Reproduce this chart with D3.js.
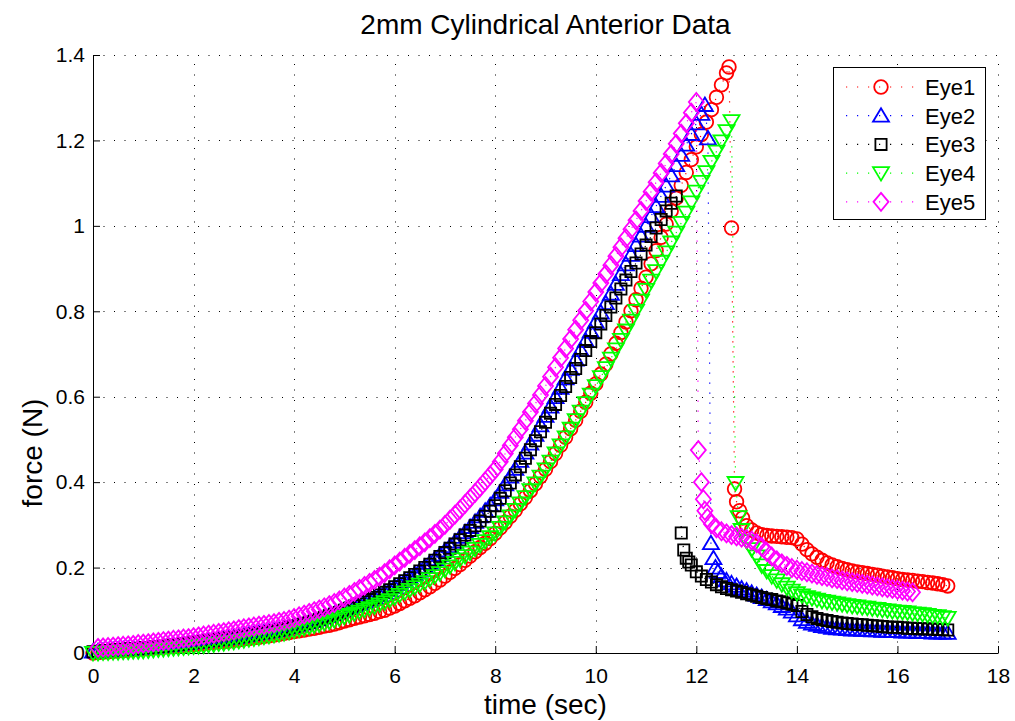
<!DOCTYPE html>
<html><head><meta charset="utf-8">
<script src="https://cdn.jsdelivr.net/npm/d3@7"></script>
<style>body{margin:0;background:#fff}svg{display:block}</style>
</head><body>
<svg id="chart" width="1015" height="721"></svg>
<script>
const chartTitle = "2mm Cylindrical Anterior Data";
const xLabel = "time (sec)";
const yLabel = "force (N)";
const xTickValues = [0,2,4,6,8,10,12,14,16,18];
const xTickLabels = ["0","2","4","6","8","10","12","14","16","18"];
const yTickValues = [0,0.2,0.4,0.6,0.8,1,1.2,1.4];
const yTickLabels = ["0","0.2","0.4","0.6","0.8","1","1.2","1.4"];
const seriesNames = ["Eye1","Eye2","Eye3","Eye4","Eye5"];

// [time (s), force (N)]
const eye1 = [[0,0],[0.1,.001],[0.2,.002],[0.3,.003],[0.4,.004],[0.5,.005],[0.6,.006],[0.7,.007],[0.8,.008],[0.9,.009],[1,.010],
[1.1,.011],[1.2,.012],[1.3,.013],[1.4,.014],[1.5,.015],[1.6,.016],[1.7,.017],[1.8,.018],[1.9,.019],[2,.020],
[2.1,.021],[2.2,.022],[2.3,.024],[2.4,.025],[2.5,.026],[2.6,.027],[2.7,.028],[2.8,.030],[2.9,.031],[3,.033],
[3.1,.034],[3.2,.036],[3.3,.037],[3.4,.039],[3.5,.040],[3.6,.042],[3.7,.044],[3.8,.046],[3.9,.048],[4,.050],
[4.1,.052],[4.2,.054],[4.3,.056],[4.4,.058],[4.5,.060],[4.6,.063],[4.7,.065],[4.8,.068],[4.9,.071],[5,.075],
[5.1,.078],[5.2,.081],[5.3,.084],[5.4,.087],[5.5,.090],[5.6,.093],[5.7,.097],[5.8,.100],[5.9,.105],[6,.110],
[6.1,.116],[6.2,.122],[6.3,.128],[6.4,.134],[6.5,.141],[6.6,.148],[6.7,.155],[6.8,.163],[6.9,.171],[7,.180],
[7.1,.189],[7.2,.198],[7.3,.207],[7.4,.217],[7.5,.227],[7.6,.237],[7.7,.247],[7.8,.257],[7.9,.268],[8,.280],
[8.1,.293],[8.2,.306],[8.3,.320],[8.4,.334],[8.5,.349],[8.6,.364],[8.7,.380],[8.8,.396],[8.9,.413],[9,.430],
[9.1,.448],[9.2,.467],[9.3,.486],[9.4,.505],[9.5,.525],[9.6,.545],[9.7,.566],[9.8,.587],[9.9,.608],[10,.630],
[10.1,.653],[10.2,.676],[10.3,.700],[10.4,.725],[10.5,.750],[10.6,.775],[10.7,.801],[10.8,.827],[10.9,.854],[11,.880],
[11.1,.911],[11.2,.942],[11.3,.973],[11.4,1.004],[11.5,1.035],[11.6,1.065],[11.7,1.095],[11.8,1.125],[11.9,1.155],[12,1.185],
[12.1,1.214],[12.2,1.243],[12.3,1.272],[12.4,1.301],[12.5,1.330],[12.6,1.358],[12.65,1.372],
[12.7,.995],[12.76,.384],[12.8,.354],[12.86,.333],[12.92,.316],[13,.298],[13.1,.288],[13.2,.281],[13.3,.277],[13.4,.275],
[13.5,.274],[13.6,.273],[13.7,.272],[13.8,.271],[13.9,.270],[14,.267],
[14.1,.255],[14.2,.242],[14.3,.232],[14.4,.224],[14.5,.217],[14.6,.211],[14.7,.206],[14.8,.202],[14.9,.198],[15,.195],
[15.1,.192],[15.2,.190],[15.3,.188],[15.4,.186],[15.5,.184],[15.6,.182],[15.7,.180],[15.8,.178],[15.9,.176],[16,.174],
[16.1,.172],[16.2,.171],[16.3,.170],[16.4,.168],[16.5,.167],[16.6,.165],[16.7,.164],[16.8,.162],[16.9,.160],[17,.157]];

const eye2 = [[0,.003],[0.1,.004],[0.2,.005],[0.3,.006],[0.4,.007],[0.5,.008],[0.6,.009],[0.7,.010],[0.8,.010],[0.9,.011],[1,.012],
[1.1,.013],[1.2,.014],[1.3,.015],[1.4,.016],[1.5,.018],[1.6,.019],[1.7,.020],[1.8,.022],[1.9,.023],[2,.025],
[2.1,.026],[2.2,.027],[2.3,.029],[2.4,.030],[2.5,.032],[2.6,.033],[2.7,.035],[2.8,.036],[2.9,.038],[3,.040],
[3.1,.042],[3.2,.044],[3.3,.046],[3.4,.048],[3.5,.050],[3.6,.052],[3.7,.054],[3.8,.057],[3.9,.060],[4,.063],
[4.1,.066],[4.2,.069],[4.3,.072],[4.4,.075],[4.5,.079],[4.6,.083],[4.7,.087],[4.8,.091],[4.9,.095],[5,.100],
[5.1,.105],[5.2,.110],[5.3,.115],[5.4,.120],[5.5,.125],[5.6,.130],[5.7,.136],[5.8,.142],[5.9,.148],[6,.155],
[6.1,.162],[6.2,.169],[6.3,.177],[6.4,.185],[6.5,.193],[6.6,.202],[6.7,.211],[6.8,.220],[6.9,.230],[7,.240],
[7.1,.250],[7.2,.261],[7.3,.272],[7.4,.283],[7.5,.295],[7.6,.307],[7.7,.320],[7.8,.333],[7.9,.346],[8,.360],
[8.1,.377],[8.2,.395],[8.3,.413],[8.4,.431],[8.5,.450],[8.6,.469],[8.7,.490],[8.8,.511],[8.9,.533],[9,.555],
[9.1,.577],[9.2,.599],[9.3,.621],[9.4,.643],[9.5,.665],[9.6,.687],[9.7,.709],[9.8,.731],[9.9,.753],[10,.775],
[10.1,.797],[10.2,.819],[10.3,.841],[10.4,.864],[10.5,.887],[10.6,.910],[10.7,.932],[10.8,.955],[10.9,.977],[11,1.000],
[11.1,1.023],[11.2,1.046],[11.3,1.070],[11.4,1.094],[11.5,1.118],[11.6,1.142],[11.7,1.166],[11.8,1.190],[11.9,1.215],[12,1.240],
[12.1,1.262],[12.17,1.283],[12.23,1.205],[12.29,.257],[12.34,.222],[12.38,.200],[12.43,.190],[12.5,.180],
[12.6,.170],[12.7,.163],[12.8,.157],[12.9,.151],[13,.146],[13.1,.141],[13.2,.136],[13.3,.131],[13.4,.126],[13.5,.121],
[13.6,.116],[13.7,.110],[13.8,.104],[13.9,.097],[14,.088],
[14.1,.079],[14.2,.073],[14.3,.069],[14.4,.066],[14.5,.063],[14.6,.061],[14.7,.059],[14.8,.058],[14.9,.057],[15,.056],
[15.1,.055],[15.2,.055],[15.3,.054],[15.4,.054],[15.5,.053],[15.6,.053],[15.7,.052],[15.8,.052],[15.9,.051],[16,.051],
[16.1,.050],[16.2,.050],[16.3,.050],[16.4,.049],[16.5,.049],[16.6,.049],[16.7,.048],[16.8,.048],[16.9,.048],[17,.047]];

const eye3 = [[0,.003],[0.1,.004],[0.2,.005],[0.3,.006],[0.4,.007],[0.5,.008],[0.6,.009],[0.7,.010],[0.8,.010],[0.9,.011],[1,.012],
[1.1,.013],[1.2,.014],[1.3,.015],[1.4,.016],[1.5,.018],[1.6,.019],[1.7,.020],[1.8,.022],[1.9,.023],[2,.025],
[2.1,.026],[2.2,.027],[2.3,.029],[2.4,.030],[2.5,.032],[2.6,.033],[2.7,.035],[2.8,.036],[2.9,.038],[3,.040],
[3.1,.042],[3.2,.044],[3.3,.046],[3.4,.048],[3.5,.050],[3.6,.052],[3.7,.054],[3.8,.057],[3.9,.060],[4,.063],
[4.1,.066],[4.2,.069],[4.3,.072],[4.4,.075],[4.5,.079],[4.6,.083],[4.7,.087],[4.8,.091],[4.9,.095],[5,.100],
[5.1,.105],[5.2,.110],[5.3,.115],[5.4,.120],[5.5,.125],[5.6,.130],[5.7,.136],[5.8,.142],[5.9,.148],[6,.155],
[6.1,.162],[6.2,.169],[6.3,.176],[6.4,.184],[6.5,.192],[6.6,.200],[6.7,.208],[6.8,.217],[6.9,.226],[7,.235],
[7.1,.245],[7.2,.255],[7.3,.265],[7.4,.276],[7.5,.287],[7.6,.298],[7.7,.309],[7.8,.320],[7.9,.332],[8,.345],
[8.1,.362],[8.2,.380],[8.3,.398],[8.4,.417],[8.5,.436],[8.6,.456],[8.7,.476],[8.8,.497],[8.9,.518],[9,.540],
[9.1,.561],[9.2,.582],[9.3,.603],[9.4,.624],[9.5,.645],[9.6,.666],[9.7,.687],[9.8,.708],[9.9,.729],[10,.750],
[10.1,.770],[10.2,.790],[10.3,.810],[10.4,.831],[10.5,.852],[10.6,.873],[10.7,.893],[10.8,.913],[10.9,.934],[11,.955],
[11.1,.975],[11.2,.995],[11.3,1.015],[11.4,1.035],[11.5,1.053],[11.6,1.070],
[11.7,.281],[11.75,.241],[11.8,.222],[11.85,.213],[11.9,.206],[12,.190],[12.1,.180],[12.2,.172],[12.3,.166],[12.4,.160],
[12.5,.155],[12.6,.151],[12.7,.148],[12.8,.145],[12.9,.142],[13,.139],
[13.1,.136],[13.2,.133],[13.3,.130],[13.4,.127],[13.5,.125],[13.6,.122],[13.7,.120],[13.8,.117],[13.9,.114],[14,.111],
[14.1,.097],[14.2,.090],[14.3,.085],[14.4,.081],[14.5,.078],[14.6,.076],[14.7,.074],[14.8,.072],[14.9,.070],[15,.069],
[15.1,.068],[15.2,.067],[15.3,.066],[15.4,.065],[15.5,.064],[15.6,.063],[15.7,.062],[15.8,.061],[15.9,.060],[16,.060],
[16.1,.059],[16.2,.058],[16.3,.058],[16.4,.057],[16.5,.057],[16.6,.056],[16.7,.056],[16.8,.055],[16.9,.055],[17,.054]];

const eye4 = [[0,.000],[0.1,.000],[0.2,.001],[0.3,.001],[0.4,.002],[0.5,.002],[0.6,.003],[0.7,.003],[0.8,.004],[0.9,.004],[1,.005],
[1.1,.006],[1.2,.007],[1.3,.008],[1.4,.009],[1.5,.010],[1.6,.011],[1.7,.012],[1.8,.013],[1.9,.014],[2,.015],
[2.1,.016],[2.2,.017],[2.3,.019],[2.4,.020],[2.5,.022],[2.6,.023],[2.7,.025],[2.8,.026],[2.9,.028],[3,.030],
[3.1,.032],[3.2,.034],[3.3,.036],[3.4,.038],[3.5,.040],[3.6,.042],[3.7,.044],[3.8,.046],[3.9,.049],[4,.052],
[4.1,.055],[4.2,.058],[4.3,.061],[4.4,.064],[4.5,.067],[4.6,.070],[4.7,.073],[4.8,.077],[4.9,.081],[5,.085],
[5.1,.089],[5.2,.093],[5.3,.097],[5.4,.101],[5.5,.105],[5.6,.109],[5.7,.114],[5.8,.119],[5.9,.124],[6,.130],
[6.1,.136],[6.2,.142],[6.3,.148],[6.4,.154],[6.5,.160],[6.6,.166],[6.7,.173],[6.8,.180],[6.9,.187],[7,.195],
[7.1,.203],[7.2,.211],[7.3,.219],[7.4,.227],[7.5,.235],[7.6,.244],[7.7,.253],[7.8,.262],[7.9,.271],[8,.280],
[8.1,.293],[8.2,.306],[8.3,.320],[8.4,.335],[8.5,.350],[8.6,.365],[8.7,.381],[8.8,.397],[8.9,.413],[9,.430],
[9.1,.448],[9.2,.467],[9.3,.486],[9.4,.505],[9.5,.525],[9.6,.545],[9.7,.565],[9.8,.585],[9.9,.605],[10,.625],
[10.1,.646],[10.2,.667],[10.3,.689],[10.4,.711],[10.5,.733],[10.6,.755],[10.7,.778],[10.8,.801],[10.9,.825],[11,.850],
[11.1,.872],[11.2,.894],[11.3,.916],[11.4,.938],[11.5,.961],[11.6,.984],[11.7,1.007],[11.8,1.031],[11.9,1.055],[12,1.080],
[12.1,1.103],[12.2,1.126],[12.3,1.150],[12.4,1.174],[12.5,1.198],[12.6,1.222],[12.7,1.245],
[12.78,.398],[12.84,.318],[12.9,.288],[13,.262],[13.1,.243],[13.2,.226],[13.3,.205],[13.4,.192],[13.5,.180],
[13.6,.170],[13.7,.161],[13.8,.153],[13.9,.146],[14,.140],
[14.1,.135],[14.2,.131],[14.3,.128],[14.4,.125],[14.5,.122],[14.6,.120],[14.7,.118],[14.8,.116],[14.9,.114],[15,.112],
[15.1,.110],[15.2,.109],[15.3,.107],[15.4,.106],[15.5,.104],[15.6,.103],[15.7,.101],[15.8,.100],[15.9,.098],[16,.097],
[16.1,.096],[16.2,.095],[16.3,.093],[16.4,.092],[16.5,.091],[16.6,.089],[16.7,.087],[16.8,.086],[16.9,.084],[17,.082]];

const eye5 = [[0.1,.012],[0.2,.013],[0.3,.014],[0.4,.015],[0.5,.016],[0.6,.017],[0.7,.018],[0.8,.019],[0.9,.021],[1,.022],
[1.1,.023],[1.2,.025],[1.3,.026],[1.4,.028],[1.5,.029],[1.6,.031],[1.7,.032],[1.8,.034],[1.9,.035],[2,.037],
[2.1,.039],[2.2,.041],[2.3,.043],[2.4,.045],[2.5,.047],[2.6,.049],[2.7,.051],[2.8,.053],[2.9,.056],[3,.058],
[3.1,.060],[3.2,.062],[3.3,.064],[3.4,.066],[3.5,.068],[3.6,.070],[3.7,.073],[3.8,.075],[3.9,.078],[4,.082],
[4.1,.086],[4.2,.090],[4.3,.094],[4.4,.098],[4.5,.102],[4.6,.107],[4.7,.112],[4.8,.117],[4.9,.123],[5,.130],
[5.1,.136],[5.2,.143],[5.3,.150],[5.4,.157],[5.5,.164],[5.6,.171],[5.7,.179],[5.8,.187],[5.9,.196],[6,.205],
[6.1,.214],[6.2,.223],[6.3,.232],[6.4,.241],[6.5,.250],[6.6,.259],[6.7,.269],[6.8,.279],[6.9,.289],[7,.300],
[7.1,.312],[7.2,.324],[7.3,.336],[7.4,.349],[7.5,.362],[7.6,.375],[7.7,.388],[7.8,.402],[7.9,.416],[8,.430],
[8.1,.448],[8.2,.467],[8.3,.486],[8.4,.505],[8.5,.524],[8.6,.544],[8.7,.564],[8.8,.584],[8.9,.604],[9,.625],
[9.1,.647],[9.2,.669],[9.3,.691],[9.4,.713],[9.5,.735],[9.6,.757],[9.7,.779],[9.8,.801],[9.9,.823],[10,.845],
[10.1,.866],[10.2,.887],[10.3,.908],[10.4,.929],[10.5,.950],[10.6,.971],[10.7,.992],[10.8,1.013],[10.9,1.035],[11,1.058],
[11.1,1.080],[11.2,1.102],[11.3,1.124],[11.4,1.146],[11.5,1.168],[11.6,1.192],[11.7,1.216],[11.8,1.240],[11.9,1.265],[12,1.290],
[12.04,.475],[12.1,.400],[12.14,.360],[12.17,.333],[12.22,.316],[12.3,.302],[12.4,.292],[12.5,.285],[12.6,.280],[12.7,.276],
[12.8,.273],[12.9,.270],[13,.267],[13.1,.263],[13.2,.257],[13.3,.248],[13.4,.237],[13.5,.226],[13.6,.217],[13.7,.210],
[13.8,.204],[13.9,.199],[14,.195],[14.1,.192],[14.2,.189],[14.3,.186],[14.4,.183],[14.5,.180],[14.6,.178],[14.7,.175],
[14.8,.173],[14.9,.170],[15,.168],[15.1,.166],[15.2,.164],[15.3,.162],[15.4,.160],[15.5,.158],[15.6,.156],[15.7,.154],
[15.8,.152],[15.9,.150],[16,.148],[16.1,.146],[16.2,.144],[16.3,.142]];

const seriesData = [eye1, eye2, eye3, eye4, eye5];
const seriesColors = ["#ff0000", "#0000ff", "#000000", "#00ff00", "#ff00ff"];
const seriesMarkers = ["circle", "triangleUp", "square", "triangleDown", "diamond"];

const FONT = "'Liberation Sans', Arial, Helvetica, sans-serif";
const svg = d3.select("#chart");
svg.append("rect").attr("width", 1015).attr("height", 721).attr("fill", "#fff");

const margin = {left: 93, right: 998, top: 55, bottom: 653};
const x = d3.scaleLinear().domain([0, 18]).range([margin.left, margin.right]);
const y = d3.scaleLinear().domain([0, 1.4]).range([margin.bottom, margin.top]);

// grid (dotted)
const grid = svg.append("g").attr("stroke", "#000").attr("stroke-width", 1)
  .attr("stroke-dasharray", "1,9.5").attr("fill", "none");
grid.selectAll("line.v").data(xTickValues.filter(v => v > 0)).join("line")
  .attr("x1", d => Math.round(x(d)) + 0.5).attr("x2", d => Math.round(x(d)) + 0.5)
  .attr("y1", y(0)).attr("y2", y(1.4));
grid.selectAll("line.h").data(yTickValues.filter(v => v > 0)).join("line")
  .attr("y1", d => Math.round(y(d)) + 0.5).attr("y2", d => Math.round(y(d)) + 0.5)
  .attr("x1", x(0)).attr("x2", x(18));

// axes
const xAxis = d3.axisBottom(x).tickValues(xTickValues)
  .tickFormat((d, i) => xTickLabels[i]).tickSizeInner(-7).tickSizeOuter(0).tickPadding(15);
const yAxis = d3.axisLeft(y).tickValues(yTickValues)
  .tickFormat((d, i) => yTickLabels[i]).tickSizeInner(-7).tickSizeOuter(0).tickPadding(8);

const gx = svg.append("g").attr("transform", `translate(0,${margin.bottom})`).call(xAxis);
const gy = svg.append("g").attr("transform", `translate(${margin.left},0)`).call(yAxis);
[gx, gy].forEach(g => {
  g.selectAll("text").attr("font-family", FONT).attr("font-size", 21).attr("fill", "#000");
  g.selectAll("line").attr("stroke", "#000");
  g.select(".domain").attr("stroke", "#000");
});

// marker shapes
function markerPath(type) {
  switch (type) {
    case "circle": return "M6.8,0A6.8,6.8 0 1,1 -6.8,0A6.8,6.8 0 1,1 6.8,0Z";
    case "square": return "M-5.6,-5.6H5.6V5.6H-5.6Z";
    case "triangleUp": return "M0,-7.5L8,6L-8,6Z";
    case "triangleDown": return "M0,7.5L8,-6L-8,-6Z";
    case "diamond": return "M0,-9L7.5,0L0,9L-7.5,0Z";
  }
}

const line = d3.line().x(d => x(d[0])).y(d => y(d[1]));
const plot = svg.append("g");
seriesData.forEach((data, i) => {
  const g = plot.append("g");
  g.append("path").datum(data).attr("d", line).attr("fill", "none")
    .attr("stroke", seriesColors[i]).attr("stroke-width", 1.2).attr("stroke-dasharray", "1.2,8.8");
  g.selectAll("path.m").data(data).join("path").attr("class", "m")
    .attr("transform", d => `translate(${x(d[0])},${y(d[1])})`)
    .attr("d", markerPath(seriesMarkers[i]))
    .attr("fill", "none").attr("stroke", seriesColors[i]).attr("stroke-width", 1.8);
});

// title and labels
svg.append("text").attr("x", (margin.left + margin.right) / 2).attr("y", 34)
  .attr("text-anchor", "middle").attr("font-family", FONT).attr("font-size", 28).text(chartTitle);
svg.append("text").attr("x", (margin.left + margin.right) / 2).attr("y", 714)
  .attr("text-anchor", "middle").attr("font-family", FONT).attr("font-size", 28).text(xLabel);
svg.append("text").attr("transform", "translate(42,453) rotate(-90)")
  .attr("text-anchor", "middle").attr("font-family", FONT).attr("font-size", 28).text(yLabel);

// legend
const legend = svg.append("g");
legend.append("rect").attr("x", 833.5).attr("y", 67.5).attr("width", 152).attr("height", 152)
  .attr("fill", "#fff").attr("stroke", "#000").attr("stroke-width", 1);
seriesNames.forEach((name, i) => {
  const cy = 87 + i * 28.7;
  legend.append("line").attr("x1", 846).attr("x2", 916).attr("y1", cy).attr("y2", cy)
    .attr("stroke", seriesColors[i]).attr("stroke-width", 1.2).attr("stroke-dasharray", "1.2,9.8");
  legend.append("path").attr("transform", `translate(881,${cy})`).attr("d", markerPath(seriesMarkers[i]))
    .attr("fill", "none").attr("stroke", seriesColors[i]).attr("stroke-width", 1.8);
  legend.append("text").attr("x", 925).attr("y", cy + 8).attr("font-family", FONT)
    .attr("font-size", 22).attr("fill", "#000").text(name);
});
</script>
</body></html>
